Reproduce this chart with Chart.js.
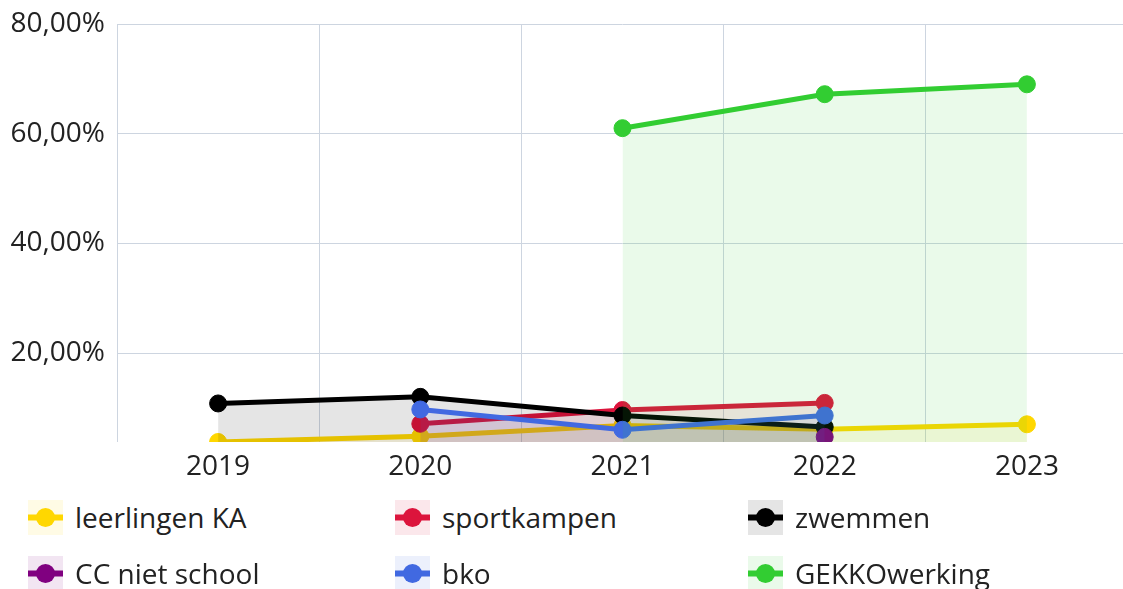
<!DOCTYPE html>
<html>
<head>
<meta charset="utf-8">
<script src="https://cdn.jsdelivr.net/npm/chart.js@4/dist/chart.umd.min.js"></script>
<style>
  html, body { margin: 0; background: #fff; font-family: "Open Sans", sans-serif; overflow: hidden; }
  #wrap { position: relative; width: 1128px; height: 490px; }
  #legend { display: grid; grid-template-columns: 367px 353px auto; padding-left: 28px; margin-top: -1px; }
  .item { display: flex; align-items: center; height: 56px; font-size: 28px; color: #222; }
  .item canvas { margin-right: 12px; }
</style>
</head>
<body>
<div id="wrap"><canvas id="myChart"></canvas></div>
<div id="legend"></div>
<script>
const years = ['2019', '2020', '2021', '2022', '2023'];
const seriesNames = ['leerlingen KA', 'sportkampen', 'zwemmen', 'CC niet school', 'bko', 'GEKKOwerking'];
const leerlingenKA = [3.77, 4.8, 6.8, 6.1, 7.0];
const sportkampen = [null, 7.1, 9.6, 10.9, null];
const zwemmen = [10.8, 12.0, 8.6, 6.5, null];
const ccNietSchool = [null, null, null, 4.7, null];
const bko = [null, 9.7, 6.0, 8.6, null];
const gekkoWerking = [null, null, 61.0, 67.2, 69.0];
const yTicks = [20, 40, 60, 80];

const colors = ['#FFD700', '#DC143C', '#000000', '#800080', '#4169E1', '#32CD32'];
const fills = ['rgba(255,215,0,0.1)', 'rgba(220,20,60,0.1)', 'rgba(0,0,0,0.1)',
  'rgba(128,0,128,0.1)', 'rgba(65,105,225,0.1)', 'rgba(50,205,50,0.1)'];
const allSeries = [leerlingenKA, sportkampen, zwemmen, ccNietSchool, bko, gekkoWerking];

const allValues = allSeries.flat().filter(v => v !== null);
const yMin = Math.min(...allValues);

const pct = v => v.toFixed(2).replace('.', ',') + '%';

const datasets = allSeries.map((data, i) => ({
  label: seriesNames[i],
  data: data,
  borderColor: colors[i],
  backgroundColor: fills[i],
  pointBackgroundColor: colors[i],
  pointBorderColor: colors[i],
  borderWidth: 5,
  pointRadius: 8.5,
  pointBorderWidth: 1,
  fill: 'origin',
  clip: 0,
  order: allSeries.length - 1 - i
}));

const font = { family: '"Open Sans", sans-serif', size: 28 };

new Chart(document.getElementById('myChart'), {
  type: 'line',
  data: { labels: years, datasets: datasets },
  options: {
    responsive: true,
    maintainAspectRatio: false,
    animation: false,
    layout: { autoPadding: false, padding: { top: 24, right: 0, left: 0, bottom: 0 } },
    plugins: { legend: { display: false }, tooltip: { enabled: false } },
    scales: {
      x: {
        offset: true,
        grid: { offset: true, color: '#cdd5e0', drawTicks: false },
        border: { display: false },
        ticks: { font: font, color: '#222', padding: 8 },
        afterFit: s => { s.height = 48; s.paddingLeft = 0; s.paddingRight = 0; }
      },
      y: {
        min: yMin,
        max: 80,
        grid: { color: '#cdd5e0', drawTicks: false },
        border: { display: false },
        ticks: { font: font, color: '#222', padding: 12, callback: v => pct(v) },
        afterBuildTicks: s => { s.ticks = yTicks.map(v => ({ value: v })); },
        afterFit: s => { s.width = 117; s.paddingTop = 0; s.paddingBottom = 0; }
      }
    }
  }
});

// LEGEND
const legend = document.getElementById('legend');
seriesNames.forEach((name, i) => {
  const item = document.createElement('div');
  item.className = 'item';
  const c = document.createElement('canvas');
  c.width = 35; c.height = 35;
  const g = c.getContext('2d');
  g.fillStyle = fills[i];
  g.fillRect(0, 0, 35, 35);
  g.strokeStyle = colors[i];
  g.lineWidth = 6;
  g.beginPath(); g.moveTo(0, 17.5); g.lineTo(35, 17.5); g.stroke();
  g.fillStyle = colors[i];
  g.beginPath(); g.arc(17.5, 17.5, 9.5, 0, Math.PI * 2); g.fill();
  item.appendChild(c);
  const span = document.createElement('span');
  span.textContent = name;
  item.appendChild(span);
  legend.appendChild(item);
});
</script>
</body>
</html>
